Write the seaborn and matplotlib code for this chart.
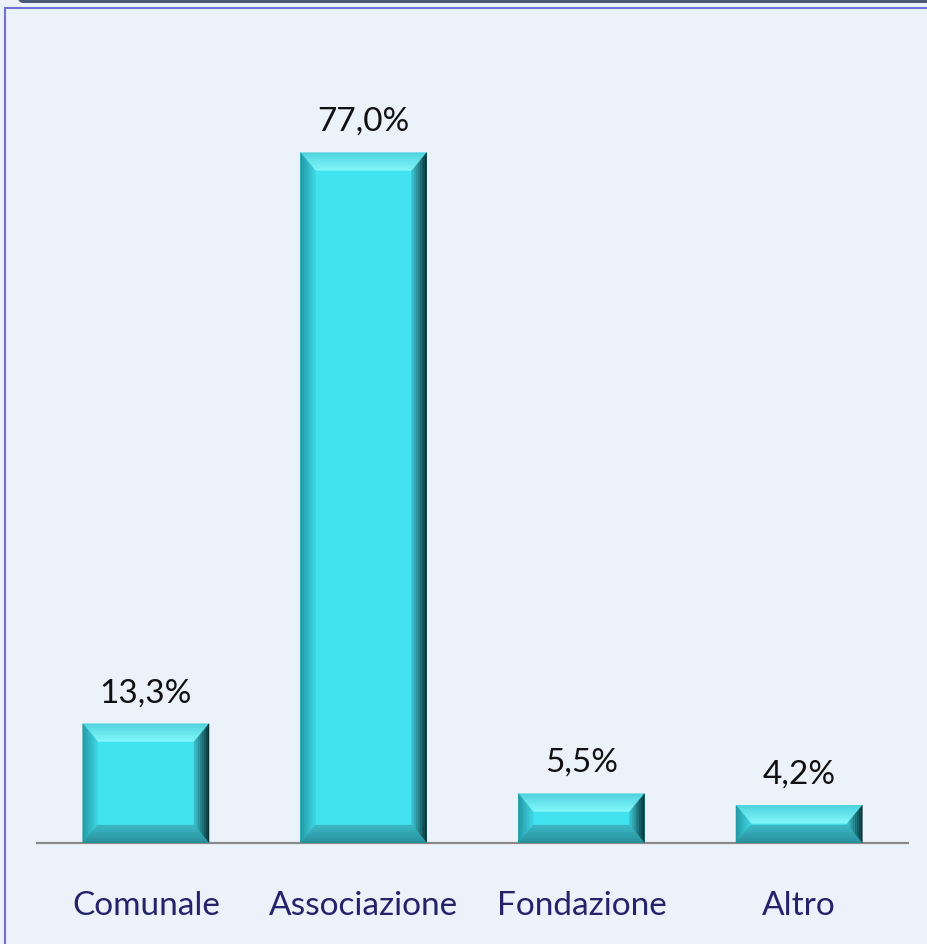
"""Bar chart: distribution by legal form (percent)"""

import matplotlib.pyplot as plt
import matplotlib.patches as mpatches
from matplotlib.colors import to_rgb
import numpy as np
import pandas as pd
import seaborn as sns

categories = ["Comunale", "Associazione", "Fondazione", "Altro"]
values = [13.3, 77.0, 5.5, 4.2]
value_labels = ["13,3%", "77,0%", "5,5%", "4,2%"]

BG = "#ecf2fa"
BAR = "#42e3f0"

df = pd.DataFrame({"Tipo": categories, "Quota": values})

sns.set_theme(style="white")
plt.rcParams["font.family"] = ["Lato", "DejaVu Sans"]

fig = plt.figure(figsize=(9.28, 9.45), dpi=100, facecolor=BG)
ax = fig.add_axes([37 / 928, 1 - 844 / 945, 871 / 928, 807 / 945])
ax.set_facecolor(BG)

sns.barplot(data=df, x="Tipo", y="Quota", color=BAR, width=0.58,
            saturation=1, ax=ax, edgecolor="none")

ax.set_xlim(-0.5, 3.5)
ax.set_ylim(0, 90)
for side in ["left", "right", "top"]:
    ax.spines[side].set_visible(False)
ax.spines["bottom"].set_color("#8a8a8a")
ax.spines["bottom"].set_linewidth(1.6)
ax.set_yticks([])
ax.set_xlabel("")
ax.set_ylabel("")
ax.tick_params(axis="x", length=0, pad=34, labelsize=24, labelcolor="#23236b")


def mix(c0, c1, t):
    a, b = np.array(to_rgb(c0)), np.array(to_rgb(c1))
    return tuple(a + (b - a) * t)


# bevel gradients: (outer colour, inner colour) for each face
bevel = {
    "top": ("#4fd2dc", "#84f7fc"),
    "left": ("#2296a0", "#3ed6e4"),
    "right": ("#062a2e", "#3cc6d2"),
    "bottom": ("#278c96", "#3ab9c5"),
}
N = 8

fig.canvas.draw()
inv = ax.transData.inverted()
for bar, lab in zip(ax.patches, value_labels):
    x0, y0 = bar.get_x(), bar.get_y()
    x1, y1 = x0 + bar.get_width(), y0 + bar.get_height()
    (px0, py0), (px1, py1) = ax.transData.transform([(x0, y0), (x1, y1)])
    bx = min(15, (px1 - px0) / 2)
    by = min(18, (py1 - py0) / 2)

    def ring(t):
        return px0 + bx * t, py0 + by * t, px1 - bx * t, py1 - by * t

    for k in range(N):
        a0, b0, c0, d0 = ring(k / N)
        a1, b1, c1, d1 = ring((k + 1) / N)
        faces = {
            "top": [(a0, d0), (c0, d0), (c1, d1), (a1, d1)],
            "left": [(a0, b0), (a1, b1), (a1, d1), (a0, d0)],
            "right": [(c0, b0), (c0, d0), (c1, d1), (c1, b1)],
            "bottom": [(a0, b0), (c0, b0), (c1, b1), (a1, b1)],
        }
        for name, pts in faces.items():
            col = mix(*bevel[name], (k + 0.5) / N)
            ax.add_patch(mpatches.Polygon(inv.transform(pts), closed=True,
                                          facecolor=col, edgecolor=col,
                                          linewidth=0.3, zorder=3))
    ax.annotate(lab, (x0 + bar.get_width() / 2, y1), xytext=(0, 12),
                textcoords="offset points", ha="center", va="bottom",
                fontsize=24, color="#111111")

# frame around the chart area
fig.add_artist(mpatches.Rectangle((5 / 928, -0.1), 1.2, 1 - 9 / 945 + 0.1,
                                  transform=fig.transFigure, fill=False,
                                  edgecolor="#7070d8", linewidth=1.5, clip_on=False))
fig.add_artist(mpatches.FancyBboxPatch((18 / 928, 1 - 4 / 945), 1.0, 8 / 945,
                                       boxstyle="round,pad=0,rounding_size=0.006",
                                       transform=fig.transFigure, facecolor="#4b5679",
                                       edgecolor="none", clip_on=False))

fig.savefig("out.png", dpi=100, facecolor=BG)
